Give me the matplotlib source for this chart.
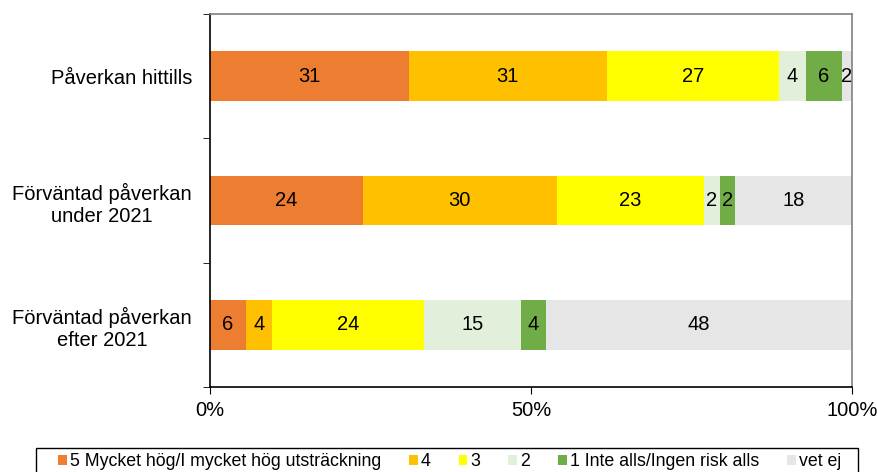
import matplotlib.pyplot as plt
from matplotlib.patches import Patch, Rectangle

plt.rcParams['font.family'] = ['Liberation Sans', 'DejaVu Sans']

categories = ['Påverkan hittills', 'Förväntad påverkan\nunder 2021', 'Förväntad påverkan\nefter 2021']
series = ['5 Mycket hög/I mycket hög utsträckning', '4', '3', '2',
          '1 Inte alls/Ingen risk alls', 'vet ej']
colors = ['#ED7D31', '#FFC000', '#FFFF00', '#E2EFDA', '#70AD47', '#E7E6E6']

# percent per category, order = series
s5 = [31.0, 23.8, 5.6]
s4 = [30.8, 30.2, 4.0]
s3 = [26.8, 22.9, 23.7]
s2 = [4.2, 2.5, 15.1]
s1 = [5.6, 2.3, 4.0]
vetej = [1.6, 18.3, 47.6]
# printed labels
lab5 = [31, 24, 6]
lab4 = [31, 30, 4]
lab3 = [27, 23, 24]
lab2 = [4, 2, 15]
lab1 = [6, 2, 4]
labv = [2, 18, 48]

values = [s5, s4, s3, s2, s1, vetej]
labels = [lab5, lab4, lab3, lab2, lab1, labv]

FS = 14.5

fig = plt.figure(figsize=(8.77, 4.72), dpi=100)
ax = fig.add_axes([210/877, 1-387/472, (852-210)/877, (387-14)/472])

y = [0, 1, 2]
left = [0, 0, 0]
for vals, labs, col in zip(values, labels, colors):
    bars = ax.barh(y, vals, left=left, height=0.4, color=col)
    for i, b in enumerate(bars):
        ax.text(left[i] + vals[i] / 2, y[i], str(labs[i]), ha='center', va='center', fontsize=FS)
    left = [l + v for l, v in zip(left, vals)]

ax.set_xlim(0, 100)
ax.set_ylim(2.5, -0.5)
ax.set_xticks([0, 50, 100])
ax.set_xticklabels(['0%', '50%', '100%'], fontsize=FS)
ax.set_yticks([0, 1, 2])
ax.set_yticklabels(categories, fontsize=FS, ha='right', multialignment='center')
ax.tick_params(axis='y', length=0, pad=13)
ax.set_yticks([-0.5, 0.5, 1.5, 2.5], minor=True)
ax.tick_params(axis='y', which='minor', length=5, direction='out')
ax.tick_params(axis='x', length=5, direction='out', pad=5)
for s in ['left', 'bottom']:
    ax.spines[s].set_color('black')
    ax.spines[s].set_linewidth(1.2)
for s in ['top', 'right']:
    ax.spines[s].set_color('#808080')
    ax.spines[s].set_linewidth(1.2)

handles = [Patch(facecolor=c, edgecolor='none') for c in colors]
leg = fig.legend(handles, series, loc='center', bbox_to_anchor=(449.5/877, 1-462/472),
                 ncol=6, fontsize=12.8, frameon=False,
                 handlelength=0.5, handleheight=0.5, handletextpad=0.17, columnspacing=1.57,
                 borderpad=0, borderaxespad=0)
# legend frame, cut by the lower edge of the figure
fig.patches.append(Rectangle((36/877, -0.05), (858-36)/877, 0.05 + 1-448/472,
                             transform=fig.transFigure, fill=False, edgecolor='black', lw=1.0))

fig.savefig('out.png', dpi=100)
